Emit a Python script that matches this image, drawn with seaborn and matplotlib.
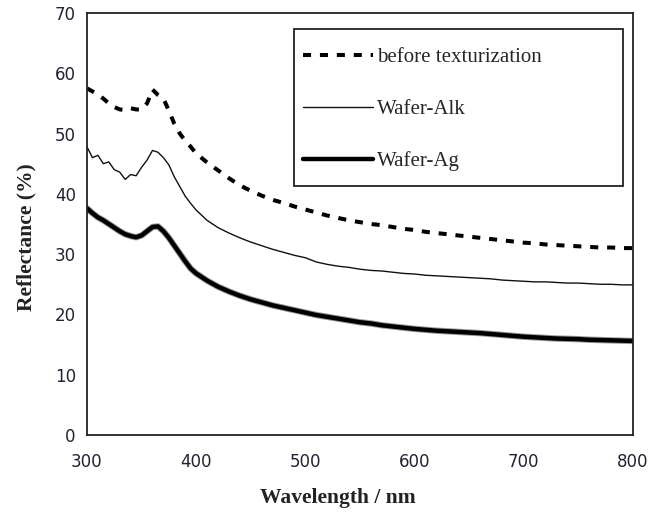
import matplotlib
matplotlib.use("Agg")
import matplotlib.pyplot as plt
from matplotlib.patches import Rectangle
import seaborn as sns
import pandas as pd

# Reflectance spectra (%) vs wavelength (nm)
wavelength = [300, 305, 310, 315, 320, 325, 330, 335, 340, 345, 350, 355, 360, 365, 370, 375, 380, 385, 390, 395, 400,
              410, 420, 430, 440, 450, 460, 470, 480, 490, 500, 510, 520, 530, 540, 550, 560, 570, 580, 590, 600,
              610, 620, 630, 640, 650, 660, 670, 680, 690, 700, 710, 720, 730, 740, 750, 760, 770, 780, 790, 800]

before_texturization = [57.5, 57.0, 56.5, 55.8, 55.0, 54.4, 54.0, 53.9, 54.2, 54.0, 54.0, 55.0, 57.3, 56.4, 55.8, 53.8, 51.6, 50.0, 48.8, 47.8, 46.7,
                        45.2, 43.9, 42.6, 41.4, 40.5, 39.7, 39.0, 38.5, 37.9, 37.4, 36.9, 36.4, 36.0, 35.6, 35.3, 35.0, 34.8, 34.5, 34.2, 34.0,
                        33.7, 33.5, 33.3, 33.1, 32.9, 32.7, 32.5, 32.3, 32.1, 31.9, 31.8, 31.6, 31.5, 31.4, 31.3, 31.2, 31.1, 31.1, 31.0, 31.0]

wafer_alk = [47.8, 46.0, 46.4, 45.0, 45.3, 44.0, 43.6, 42.4, 43.2, 43.0, 44.4, 45.6, 47.2, 46.9, 46.0, 44.8, 42.8, 41.2, 39.6, 38.4, 37.3,
             35.6, 34.4, 33.5, 32.7, 32.0, 31.4, 30.8, 30.3, 29.8, 29.4, 28.7, 28.3, 28.0, 27.8, 27.5, 27.3, 27.2, 27.0, 26.8, 26.7,
             26.5, 26.4, 26.3, 26.2, 26.1, 26.0, 25.9, 25.7, 25.6, 25.5, 25.4, 25.4, 25.3, 25.2, 25.2, 25.1, 25.0, 25.0, 24.9, 24.9]

wafer_ag = [37.6, 36.8, 36.1, 35.6, 35.0, 34.4, 33.8, 33.3, 33.0, 32.8, 33.1, 33.8, 34.5, 34.6, 33.8, 32.7, 31.4, 30.1, 28.8, 27.6, 26.8,
            25.6, 24.6, 23.8, 23.1, 22.5, 22.0, 21.5, 21.1, 20.7, 20.3, 19.9, 19.6, 19.3, 19.0, 18.7, 18.5, 18.2, 18.0, 17.8, 17.6,
            17.45, 17.3, 17.2, 17.1, 17.0, 16.9, 16.75, 16.6, 16.45, 16.3, 16.2, 16.1, 16.0, 15.95, 15.9, 15.8, 15.75, 15.7, 15.65, 15.6]

x_ticks = [300, 400, 500, 600, 700, 800]
y_ticks = [0, 10, 20, 30, 40, 50, 60, 70]

df = pd.DataFrame({"wavelength": wavelength,
                   "before texturization": before_texturization,
                   "Wafer-Alk": wafer_alk,
                   "Wafer-Ag": wafer_ag})

sns.set_style("white")
plt.rcParams["font.family"] = ["DejaVu Sans"]

fig = plt.figure(figsize=(6.51, 5.17), dpi=100)
ax = fig.add_axes([0.1336, 0.1586, 0.8388, 0.8163])

sns.lineplot(data=df, x="wavelength", y="before texturization", ax=ax, color="black",
             lw=2.9, linestyle=(0, (2, 2.2)), label="before texturization")
sns.lineplot(data=df, x="wavelength", y="Wafer-Alk", ax=ax, color="#111111",
             lw=1.0, label="Wafer-Alk")
sns.lineplot(data=df, x="wavelength", y="Wafer-Ag", ax=ax, color="#9a9a9a",
             lw=4.6, legend=False)
sns.lineplot(data=df, x="wavelength", y="Wafer-Ag", ax=ax, color="black",
             lw=3.2, label="Wafer-Ag")

ax.set_xlim(300, 800)
ax.set_ylim(0, 70)
ax.set_xticks(x_ticks)
ax.set_yticks(y_ticks)
ax.tick_params(axis="both", direction="in", length=6, width=1.2, labelsize=12,
               colors="#222233", top=False, right=False)
ax.tick_params(axis="y", pad=8)
ax.tick_params(axis="x", pad=13)

for side in ["left", "right", "top", "bottom"]:
    ax.spines[side].set_visible(True)
    ax.spines[side].set_color("#222222")
    ax.spines[side].set_linewidth(1.3)

label_font = dict(family="Liberation Serif", weight="bold", size=15.5, color="#222222")
ax.set_xlabel("Wavelength / nm", **label_font)
ax.set_ylabel("Reflectance (%)", **label_font)
ax.xaxis.set_label_coords(0.46, -0.125)
ax.yaxis.set_label_coords(-0.093, 0.47)

# Legend frame drawn as its own box, entries placed inside it
ax.add_patch(Rectangle((0.379, 0.59), 0.603, 0.372, transform=ax.transAxes,
                       fill=False, edgecolor="#222222", linewidth=1.3, zorder=5))
handles, labels = ax.get_legend_handles_labels()
leg = ax.legend(handles, labels, loc="upper left",
                bbox_to_anchor=(0.396, 0.918),
                prop=dict(family="Liberation Serif", size=15),
                handlelength=3.35, handletextpad=0.2, labelspacing=1.55,
                borderpad=0.0, borderaxespad=0.0, frameon=False)

fig.savefig("out.png", dpi=100)
